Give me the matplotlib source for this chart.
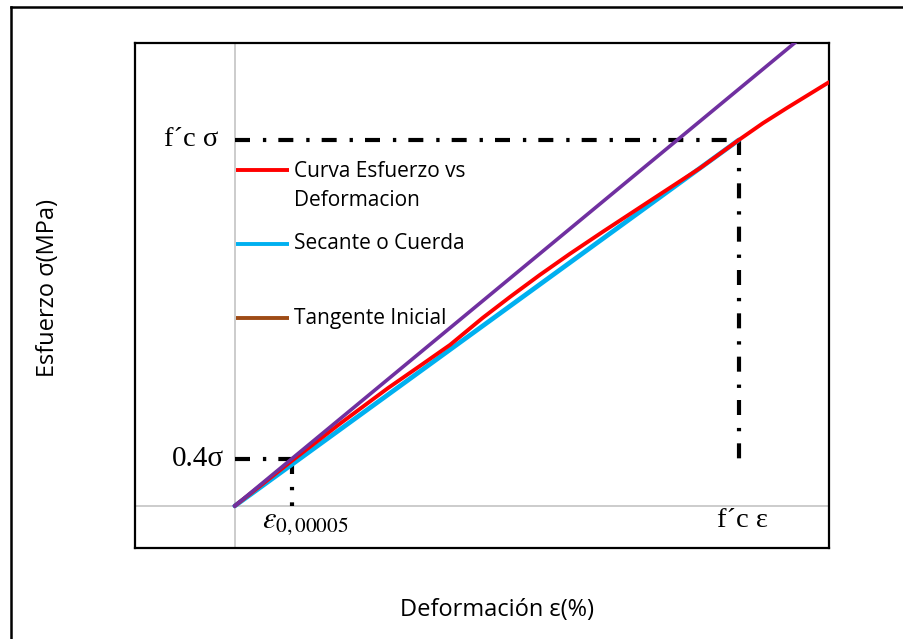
import matplotlib
matplotlib.use('Agg')
import matplotlib.pyplot as plt
from matplotlib.lines import Line2D

# ---- data (normalised units: f'c strain = 1, f'c stress = 1) ----
curve_strain = [0.0, 0.113, 0.208, 0.304, 0.373, 0.427, 0.492, 0.546, 0.605,
                0.665, 0.730, 0.823, 0.923, 1.0, 1.048, 1.095, 1.179]
curve_stress = [0.0, 0.123, 0.224, 0.322, 0.388, 0.440, 0.514, 0.571, 0.631,
                0.689, 0.749, 0.833, 0.923, 1.0, 1.046, 1.087, 1.158]
secant_strain = [0.0, 1.0]
secant_stress = [0.0, 1.0]
tangent_strain = [0.0, 1.13]
tangent_stress = [0.0, 1.287]
fc_strain = 1.0
fc_stress = 1.0
low_strain = 0.113
low_stress = 0.128
series_labels = ['Curva Esfuerzo vs\nDeformacion', 'Secante o Cuerda', 'Tangente Inicial']
series_colors = ['#FF0000', '#00B0F0', '#9E4B16']
tangent_color = '#7030A0'
label_fc_sigma = 'f\u00b4c \u03c3'
label_low_sigma = '0.4\u03c3'
label_fc_eps = 'f\u00b4c \u03b5'
label_low_eps = r'$\varepsilon_{\mathrm{0,00005}}$'
xlabel = 'Deformación ε(%)'
ylabel = 'Esfuerzo σ(MPa)'

plt.rcParams['mathtext.fontset'] = 'stix'
W, H = 904, 639
fig = plt.figure(figsize=(W / 100, H / 100), dpi=100)
ax = fig.add_axes([135 / W, 1 - 548 / H, (829 - 135) / W, (548 - 43) / H])
ax.set_xlim(-0.198, 1.179)
ax.set_ylim(-0.115, 1.265)
ax.set_xticks([])
ax.set_yticks([])
for s in ax.spines.values():
    s.set_linewidth(1.6)
    s.set_color('black')

# grey axes through origin
ax.axvline(0, color='#BFBFBF', lw=1.1, zorder=1)
ax.axhline(0, color='#BFBFBF', lw=1.1, zorder=1)

# dash-dot reference lines
dd = (0, (3.6, 3.1, 0.8, 2.9))
ax.plot([0, fc_strain], [fc_stress, fc_stress], color='black', lw=3, ls=dd, zorder=2)
ax.plot([fc_strain, fc_strain], [fc_stress, low_stress], color='black', lw=3, ls=dd, zorder=2)
ax.plot([0, low_strain], [low_stress, low_stress], color='black', lw=3, ls=dd, zorder=2)
ax.plot([low_strain, low_strain], [low_stress, 0], color='black', lw=3, ls=dd, zorder=2)

# series
ax.plot(secant_strain, secant_stress, color=series_colors[1], lw=3.4,
        solid_capstyle='round', zorder=3)
ax.plot(curve_strain, curve_stress, color=series_colors[0], lw=2.8,
        solid_joinstyle='round', solid_capstyle='round', zorder=4)
ax.plot(tangent_strain, tangent_stress, color=tangent_color, lw=2.6, zorder=5)

# manual legend (Excel style)
leg_y = [0.7485, 0.602, 0.4554]
for lab, col, yy in zip(series_labels, series_colors, leg_y):
    ax.plot([0.1455, 0.2219], [yy, yy], transform=ax.transAxes, color=col,
            lw=2.8, solid_capstyle='butt', zorder=6)
    if '\n' in lab:
        ax.text(0.2291, yy + 0.017, lab, transform=ax.transAxes, ha='left', va='top',
                fontsize=15, family='Open Sans', linespacing=1.5)
    else:
        ax.text(0.2291, yy, lab, transform=ax.transAxes, ha='left', va='center',
                fontsize=15, family='Open Sans')

# point labels
serif = 'Liberation Serif'
ax.text(-0.032, fc_stress, label_fc_sigma, ha='right', va='center', fontsize=20.5, family=serif)
ax.text(-0.022, low_stress, label_low_sigma, ha='right', va='center', fontsize=21, family=serif)
ax.text(fc_strain + 0.008, -0.04, label_fc_eps, ha='center', va='center', fontsize=20.5, family=serif)
ax.text(0.054, -0.045, label_low_eps, ha='left', va='center', fontsize=22)

# axis titles
fig.text(48 / W, 1 - 288 / H, ylabel, rotation=90, ha='center', va='center',
         fontsize=17, family='Open Sans')
fig.text(497 / W, 1 - 610 / H, xlabel, ha='center', va='center',
         fontsize=17, family='Open Sans')

# outer chart border (partly visible)
fig.add_artist(Line2D([11 / W, 11 / W], [0, 1 - 7 / H], transform=fig.transFigure,
                      color='black', lw=1.8))
fig.add_artist(Line2D([11 / W, 1], [1 - 7 / H, 1 - 7 / H], transform=fig.transFigure,
                      color='black', lw=1.8))

fig.savefig('out.png', dpi=100)
